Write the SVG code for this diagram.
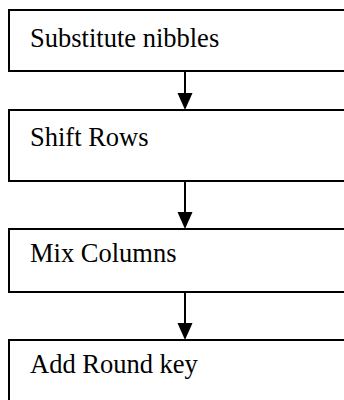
<svg xmlns="http://www.w3.org/2000/svg" width="344" height="400" viewBox="0 0 344 400">
<defs>
<style>
.box{fill:#fff;stroke:#000;stroke-width:2}
.lbl{font-family:"Liberation Serif","Times New Roman",serif;font-size:26.5px;fill:#000}
.conn{stroke:#000;stroke-width:2;fill:none}
.head{fill:#000}
</style>
</defs>
<rect width="344" height="400" fill="#fff"/>
<g id="node1"><rect class="box" x="9" y="10" width="345" height="61"/><text class="lbl" x="30" y="47">Substitute nibbles</text></g>
<g id="node2"><rect class="box" x="9" y="110" width="345" height="71"/><text class="lbl" x="30" y="146">Shift Rows</text></g>
<g id="node3"><rect class="box" x="9" y="229" width="345" height="63"/><text class="lbl" x="30" y="262">Mix Columns</text></g>
<g id="node4"><rect class="box" x="9" y="340" width="345" height="80"/><text class="lbl" x="30" y="373">Add Round key</text></g>
<g id="connectors">
<line class="conn" x1="185" y1="71" x2="185" y2="94"/><path class="head" d="M177.5,93 L192.5,93 L185,110 Z"/>
<line class="conn" x1="185" y1="181" x2="185" y2="213"/><path class="head" d="M177.5,212 L192.5,212 L185,229 Z"/>
<line class="conn" x1="185" y1="292" x2="185" y2="324"/><path class="head" d="M177.5,323 L192.5,323 L185,340 Z"/>
</g>
</svg>
